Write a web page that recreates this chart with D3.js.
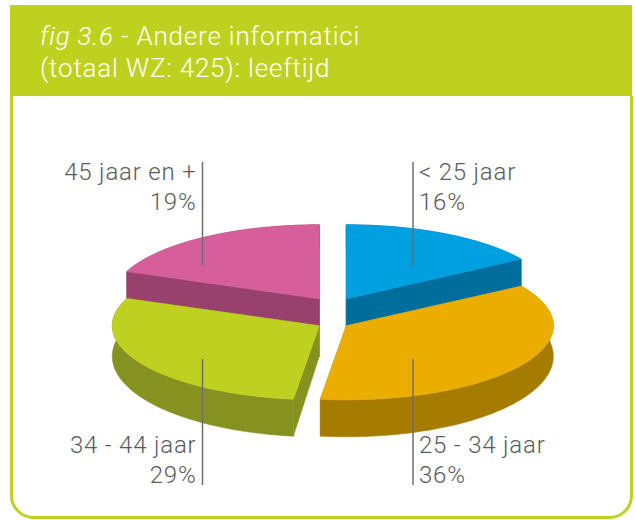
<!DOCTYPE html>
<html>
<head>
<meta charset="utf-8">
<script src="https://cdn.jsdelivr.net/npm/d3@7"></script>
<style>
  html, body { margin: 0; padding: 0; background: #fff; }
  svg { display: block; }
  .lbl { font-family: Roboto, "Liberation Sans", sans-serif; font-weight: 300; font-size: 24px; letter-spacing: 0.8px; fill: #5b5b5b; }
  .title { font-family: Roboto, "Liberation Sans", sans-serif; font-weight: 300; font-size: 26px; letter-spacing: 0.8px; fill: #fff; }
</style>
</head>
<body>
<svg id="chart" width="635" height="520"></svg>
<script>
// ─── data ───────────────────────────────────────────────
const categories = ['< 25 jaar', '25 - 34 jaar', '34 - 44 jaar', '45 jaar en +'];
const shares     = [16, 36, 29, 19];
const topColors  = ['#009fe0', '#ebae00', '#bfd120', '#d65f9b'];
const sideColors = ['#006e9d', '#a67c00', '#86921f', '#98416d'];

const GREEN = '#bfd11f';

const svg = d3.select('#chart');

// panel + header
svg.append('path')
  .attr('d', 'M11.5,96 L11.5,495.5 A22,22 0 0 0 33.5,517.5 L609.5,517.5 A22,22 0 0 0 631.5,495.5 L631.5,96')
  .attr('fill', '#fff')
  .attr('stroke', GREEN)
  .attr('stroke-width', 3);

svg.append('rect')
  .attr('x', 10).attr('y', 5)
  .attr('width', 622).attr('height', 91)
  .attr('fill', GREEN);

const t1 = svg.append('text').attr('class', 'title').attr('x', 40).attr('y', 45);
t1.append('tspan').attr('font-style', 'italic').text('fig 3.6');
t1.append('tspan').text(' - Andere informatici');
svg.append('text').attr('class', 'title').attr('x', 40).attr('y', 77)
  .text('(totaal WZ: 425): leeftijd');

// ─── 3D pie geometry ────────────────────────────────────
const cx = 332.8, cy = 312.3;   // centre of the top face (before explode)
const rx = 207, ry = 74;
const explode = 13.5;           // slices pushed out toward their quadrant

// unit circle → screen
const xs = d3.scaleLinear().domain([-1, 1]).range([-rx, rx]);
const ys = d3.scaleLinear().domain([-1, 1]).range([-ry, ry]);
// thickness grows toward the viewer (fake perspective)
const depth = d3.scaleLinear().domain([-1, 1]).range([24, 37]);

const arcs = d3.pie().sort(null).value(d => d)(shares);

function offsetOf(a) {
  const m = (a.startAngle + a.endAngle) / 2;
  return [explode * Math.sign(Math.sin(m)), -explode * Math.sign(Math.cos(m))];
}

// angle, radius fraction, h (0 = top, 1 = bottom)
function pt(a, r, h, off) {
  const ux = r * Math.sin(a), uy = -r * Math.cos(a);
  return [cx + off[0] + xs(ux), cy + off[1] + ys(uy) + h * depth(uy)];
}

function arcSamples(a0, a1) {
  const n = Math.max(2, Math.ceil((a1 - a0) / 0.02));
  return d3.range(n + 1).map(i => a0 + (a1 - a0) * i / n);
}

const line = d3.line();
const g = svg.append('g');

// back slices first, front ones last
const order = [0, 3, 2, 1];

order.forEach(i => {
  const a = arcs[i];
  const off = offsetOf(a);
  const angs = arcSamples(a.startAngle, a.endAngle);
  const sg = g.append('g');

  // outer rim
  const rim = angs.map(t => pt(t, 1, 0, off))
    .concat(angs.slice().reverse().map(t => pt(t, 1, 1, off)));
  // two cut faces
  const cut0 = [pt(0, 0, 0, off), pt(a.startAngle, 1, 0, off), pt(a.startAngle, 1, 1, off), pt(0, 0, 1, off)];
  const cut1 = [pt(0, 0, 0, off), pt(a.endAngle, 1, 0, off), pt(a.endAngle, 1, 1, off), pt(0, 0, 1, off)];

  [cut0, cut1, rim].forEach(poly => {
    sg.append('path')
      .attr('d', line(poly) + 'Z')
      .attr('fill', sideColors[i])
      .attr('stroke', sideColors[i])
      .attr('stroke-width', 0.6)
      .attr('stroke-linejoin', 'round');
  });

  const top = [pt(0, 0, 0, off)].concat(angs.map(t => pt(t, 1, 0, off)));
  sg.append('path')
    .attr('d', line(top) + 'Z')
    .attr('fill', topColors[i])
    .attr('stroke', topColors[i])
    .attr('stroke-width', 0.6)
    .attr('stroke-linejoin', 'round');
});

// ─── labels ─────────────────────────────────────────────
const leftX = 202.5, rightX = 413;
const labelG = svg.append('g');

arcs.forEach((a, i) => {
  const m = (a.startAngle + a.endAngle) / 2;
  const off = offsetOf(a);
  const right = m < Math.PI;
  const upper = Math.cos(m) > 0;
  const x = right ? rightX : leftX;
  const apexY = cy + off[1];
  const endY = apexY + (upper ? -1 : 1) * 0.45 * ry;

  const y1 = upper ? 180 : 453;
  const y2 = y1 + 30;
  const lineTop = upper ? 162 : endY;
  const lineBot = upper ? endY : 485;

  labelG.append('line')
    .attr('x1', x).attr('x2', x)
    .attr('y1', lineTop).attr('y2', lineBot)
    .attr('stroke', '#6e6e6e')
    .attr('stroke-width', 1.5);

  const tx = right ? x + 6 : x - 6;
  const anchor = right ? 'start' : 'end';
  labelG.append('text').attr('class', 'lbl')
    .attr('x', tx).attr('y', y1).attr('text-anchor', anchor)
    .text(categories[i]);
  labelG.append('text').attr('class', 'lbl')
    .attr('x', tx).attr('y', y2).attr('text-anchor', anchor)
    .text(shares[i] + '%');
});
</script>
</body>
</html>
